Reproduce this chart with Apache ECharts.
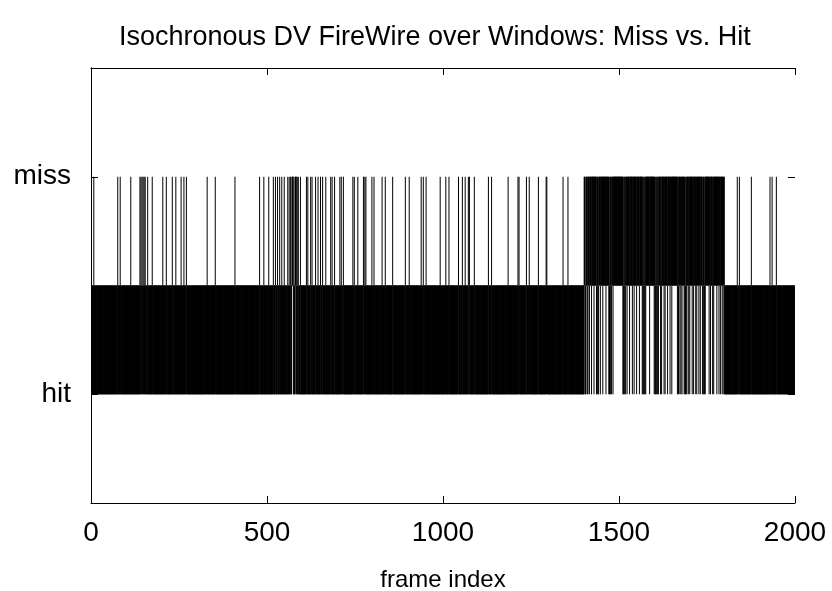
<!DOCTYPE html>
<html>
<head>
<meta charset="utf-8">
<title>Isochronous DV FireWire over Windows: Miss vs. Hit</title>
<script src="https://cdn.jsdelivr.net/npm/echarts@6/dist/echarts.min.js"></script>
<style>
html, body { margin: 0; padding: 0; background: #fff; }
#chart { width: 832px; height: 591px; }
</style>
</head>
<body>
<div id="chart"></div>
<script>
// frames
var frameCount = 2000;
// misses inside the mostly-hit stretches
var missFrames = [
  8, 76, 83, 113, 139, 142, 145, 148, 151, 154, 161, 174, 204, 214, 231, 241, 256, 264, 271,
  330, 353, 409, 479, 491, 505, 518, 524, 530, 536, 542, 549, 559, 563, 567,
  571, 572, 573, 574, 577, 581, 582, 583, 586, 589, 595, 612, 616, 624, 628, 638, 645, 652, 658,
  667, 681, 685, 692, 707, 711, 717, 744, 748, 758, 774, 778, 781, 798, 804, 827, 836, 857,
  893, 904, 938, 944, 952, 992,
  1008, 1017, 1044, 1055, 1063, 1072, 1075, 1089, 1129, 1138, 1185, 1213, 1216, 1237, 1245,
  1271, 1293, 1295, 1341, 1355,
  1836, 1842, 1876, 1929, 1935, 1947
];
// stretch where nearly every frame is a miss
var missBlock = [1401, 1799];
// hits inside that stretch
var hitFramesInBlock = [
  1403, 1405, 1406, 1410, 1412, 1416, 1422, 1429, 1436, 1438, 1440, 1442, 1447, 1454, 1463,
  1471, 1473, 1475, 1477, 1479, 1483, 1511, 1513, 1515, 1517, 1519, 1523, 1530, 1538, 1543,
  1550, 1558, 1566, 1568, 1570, 1572, 1574, 1576, 1587, 1600, 1602, 1604, 1606, 1608, 1610,
  1612, 1618, 1621, 1628, 1631, 1638, 1645, 1650, 1666, 1669, 1673, 1676, 1679, 1685, 1687,
  1689, 1691, 1693, 1698, 1701, 1708, 1712, 1718, 1721, 1727, 1731, 1737, 1739, 1741, 1743,
  1745, 1756, 1760, 1766, 1769, 1778, 1784, 1788, 1793, 1796
];
var yTickValues = [0, 1];
var yTickLabels = ['hit', 'miss'];
var xTicks = [0, 500, 1000, 1500, 2000];

// 0 = hit, 1 = miss
var frames = [];
for (var i = 0; i < frameCount; i++) {
  var inBlock = i >= missBlock[0] && i <= missBlock[1];
  var v = inBlock ? (hitFramesInBlock.indexOf(i) >= 0 ? 0 : 1)
                  : (missFrames.indexOf(i) >= 0 ? 1 : 0);
  frames.push([i, v]);
}

var font = 'Liberation Sans, Arial, Helvetica, sans-serif';
var tickLen = 7;
var chart = echarts.init(document.getElementById('chart'));

// y labels only at hit / miss; y ticks are added below as inward marks
function yAxisOf(pos, labels) {
  return {
    type: 'value',
    position: pos,
    min: -0.5,
    max: 1.5,
    interval: 0.5,
    splitLine: { show: false },
    axisLine: { show: true, lineStyle: { color: '#000', width: 1 } },
    axisTick: { show: false },
    axisLabel: labels
  };
}
function xAxisOf(pos, labels, extra) {
  return Object.assign({
    type: 'value',
    position: pos,
    min: xTicks[0],
    max: xTicks[xTicks.length - 1],
    interval: 500,
    splitLine: { show: false },
    axisLine: { show: true, onZero: false, lineStyle: { color: '#000', width: 1 } },
    axisTick: { show: true, inside: true, length: tickLen, lineStyle: { color: '#000' } },
    axisLabel: labels
  }, extra || {});
}

chart.setOption({
  animation: false,
  title: {
    text: 'Isochronous DV FireWire over Windows: Miss vs. Hit',
    left: 114,
    top: 19,
    textStyle: { fontFamily: font, fontSize: 27, fontWeight: 'normal', color: '#000' }
  },
  grid: { left: 91, right: 37, top: 68, bottom: 88, containLabel: false, outerBoundsMode: 'none' },
  xAxis: [
    xAxisOf('bottom', {
      fontFamily: font, fontSize: 28, color: '#000', margin: 16,
      formatter: function (v) { return String(v); }
    }, {
      name: 'frame index',
      nameLocation: 'middle',
      nameGap: 65,
      nameTextStyle: { fontFamily: font, fontSize: 24, color: '#000' }
    }),
    xAxisOf('top', { show: false })
  ],
  yAxis: [
    yAxisOf('left', {
      fontFamily: font, fontSize: 28, color: '#000', margin: 20,
      formatter: function (val) {
        var k = yTickValues.indexOf(val);
        return k >= 0 ? yTickLabels[k] : '';
      }
    }),
    yAxisOf('right', { show: false })
  ],
  series: [{
    type: 'custom',
    xAxisIndex: 0,
    yAxisIndex: 0,
    progressive: 0,
    clip: true,
    data: frames,
    renderItem: function (params, api) {
      var mid = api.coord([api.value(0), 0.5]);
      var end = api.coord([api.value(0), api.value(1)]);
      return {
        type: 'line',
        shape: { x1: mid[0], y1: mid[1], x2: end[0], y2: end[1] },
        style: { stroke: '#000', lineWidth: 1 }
      };
    }
  }]
});

// inward y ticks on both sides, placed through the axes
var xl = chart.convertToPixel({ xAxisIndex: 0 }, xTicks[0]);
var xr = chart.convertToPixel({ xAxisIndex: 0 }, xTicks[xTicks.length - 1]);
var tickEls = [];
yTickValues.forEach(function (val) {
  var y = Math.round(chart.convertToPixel({ yAxisIndex: 0 }, val)) + 0.5;
  tickEls.push({ type: 'line', shape: { x1: xl, y1: y, x2: xl + tickLen, y2: y }, style: { stroke: '#000', lineWidth: 1 }, z: 10 });
  tickEls.push({ type: 'line', shape: { x1: xr - tickLen, y1: y, x2: xr, y2: y }, style: { stroke: '#000', lineWidth: 1 }, z: 10 });
});
chart.setOption({ graphic: tickEls });
</script>
</body>
</html>
